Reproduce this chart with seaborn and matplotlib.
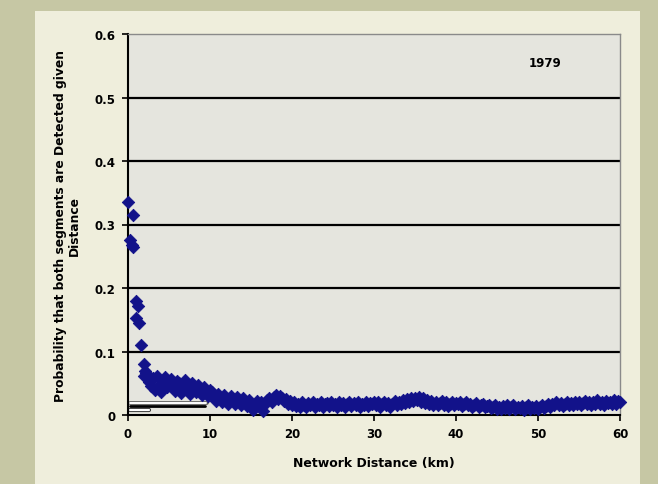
import numpy as np
import pandas as pd
import matplotlib
matplotlib.use("Agg")
import matplotlib.pyplot as plt
from matplotlib.patches import Rectangle
import seaborn as sns

# Short-distance pairs (km, probability)
near_km = [0.0, 0.6, 0.2, 0.5, 0.6, 1.0, 1.2, 1.0, 1.4, 1.6, 2.0, 2.1, 1.9, 2.2]
near_prob = [0.335, 0.315, 0.275, 0.268, 0.265, 0.180, 0.172, 0.152, 0.145,
             0.110, 0.080, 0.070, 0.062, 0.066]

# Remaining distances, sampled every 0.25 km from 2.25 to 60 km
band_start_km = 2.25
band_step_km = 0.25
band_prob = [
    # 2.25 - 5.0
    0.060, 0.052, 0.045, 0.058, 0.040, 0.062, 0.048, 0.037, 0.055, 0.060, 0.044, 0.052,
    # 5.25 - 10.0
    0.056, 0.045, 0.038, 0.054, 0.050, 0.035, 0.047, 0.055, 0.042, 0.033,
    0.050, 0.046, 0.036, 0.048, 0.040, 0.031, 0.044, 0.038, 0.030, 0.040,
    # 10.25 - 15.0
    0.036, 0.028, 0.022, 0.033, 0.026, 0.020, 0.031, 0.024, 0.018, 0.030,
    0.025, 0.017, 0.028, 0.022, 0.016, 0.026, 0.020, 0.014, 0.024, 0.012,
    # 15.25 - 20.0
    0.008, 0.018, 0.022, 0.016, 0.020, 0.006, 0.018, 0.024, 0.026, 0.020,
    0.028, 0.031, 0.025, 0.030, 0.027, 0.022, 0.025, 0.018, 0.022, 0.016,
    # 20.25 - 25.0
    0.020, 0.014, 0.018, 0.013, 0.021, 0.016, 0.012, 0.019, 0.015, 0.020,
    0.013, 0.018, 0.016, 0.021, 0.012, 0.017, 0.019, 0.014, 0.020, 0.015,
    # 25.25 - 30.0
    0.018, 0.013, 0.021, 0.016, 0.019, 0.012, 0.017, 0.020, 0.014, 0.019,
    0.016, 0.021, 0.013, 0.018, 0.015, 0.020, 0.014, 0.019, 0.017, 0.021,
    # 30.25 - 35.0
    0.016, 0.020, 0.013, 0.018, 0.021, 0.015, 0.019, 0.012, 0.018, 0.022,
    0.016, 0.020, 0.017, 0.023, 0.019, 0.025, 0.021, 0.027, 0.022, 0.026,
    # 35.25 - 40.0
    0.024, 0.028, 0.021, 0.026, 0.019, 0.024, 0.018, 0.022, 0.016, 0.021,
    0.015, 0.019, 0.022, 0.016, 0.020, 0.014, 0.018, 0.021, 0.015, 0.019,
    # 40.25 - 45.0
    0.017, 0.020, 0.014, 0.018, 0.021, 0.015, 0.017, 0.012, 0.016, 0.019,
    0.013, 0.015, 0.018, 0.012, 0.014, 0.016, 0.011, 0.013, 0.015, 0.010,
    # 45.25 - 50.0
    0.013, 0.009, 0.014, 0.011, 0.015, 0.010, 0.012, 0.016, 0.009, 0.013,
    0.011, 0.014, 0.008, 0.012, 0.015, 0.010, 0.013, 0.011, 0.014, 0.009,
    # 50.25 - 55.0
    0.012, 0.015, 0.011, 0.014, 0.017, 0.013, 0.018, 0.015, 0.020, 0.016,
    0.019, 0.014, 0.018, 0.021, 0.016, 0.019, 0.015, 0.020, 0.017, 0.021,
    # 55.25 - 60.0
    0.016, 0.019, 0.022, 0.017, 0.020, 0.015, 0.021, 0.018, 0.023, 0.017,
    0.020, 0.016, 0.022, 0.019, 0.021, 0.017, 0.023, 0.018, 0.022, 0.020,
]
band_km = [round(band_start_km + i * band_step_km, 2) for i in range(len(band_prob))]

x_ticks = [0, 10, 20, 30, 40, 50, 60]
y_ticks = [0, 0.1, 0.2, 0.3, 0.4, 0.5, 0.6]
y_tick_labels = ["0", "0.1", "0.2", "0.3", "0.4", "0.5", "0.6"]
year_label = "1979"

df = pd.DataFrame({
    "distance": near_km + band_km,
    "prob": near_prob + band_prob,
})

sns.set_theme(style="white")
plt.rcParams["font.family"] = ["DejaVu Sans"]

OUTER = "#c6c7a4"
PANEL = "#efeedc"
PLOT_BG = "#e5e5de"
NAVY = "#12128a"

fig = plt.figure(figsize=(6.58, 4.85), dpi=100, facecolor=OUTER)
# Light chart panel on the olive backdrop, kept behind the axes
panel = Rectangle((35 / 658, 0), 605 / 658, 1 - 12 / 485,
                  transform=fig.transFigure, facecolor=PANEL,
                  edgecolor="none", zorder=-5)
fig.add_artist(panel)

ax = fig.add_axes([128 / 658, 69 / 485, 492 / 658, 381 / 485])
ax.set_zorder(1)
ax.set_facecolor(PLOT_BG)

for yv in y_ticks[1:-1]:
    ax.axhline(yv, color="black", lw=1.6, zorder=1)

# Leftover legend strokes near the origin
ax.plot([0.2, 9.4], [0.014, 0.014], color="black", lw=2.0, zorder=2)
ax.plot([0.2, 9.6], [0.019, 0.019], color="#555555", lw=2.6, zorder=2)
ax.plot([0.3, 9.5], [0.019, 0.019], color="white", lw=1.4, zorder=2)
ax.plot([0.2, 2.6], [0.008, 0.008], color="#333333", lw=3.0, zorder=2)
ax.plot([0.3, 2.5], [0.008, 0.008], color="white", lw=1.6, zorder=2)

sns.scatterplot(data=df, x="distance", y="prob", ax=ax, marker="D", s=40,
                color=NAVY, edgecolor=NAVY, linewidth=0.6, zorder=3,
                legend=False, clip_on=False)

ax.set_xlim(0, 60)
ax.set_ylim(0, 0.6)
ax.set_xticks(x_ticks)
ax.set_xticklabels([str(t) for t in x_ticks])
ax.set_yticks(y_ticks)
ax.set_yticklabels(y_tick_labels)

ax.tick_params(axis="both", which="both", direction="out", length=4, width=1.2,
               color="black", labelsize=8.5, labelcolor="black",
               bottom=True, left=True)
ax.tick_params(axis="x", pad=5)
ax.tick_params(axis="y", pad=5)
for lab in ax.get_xticklabels() + ax.get_yticklabels():
    lab.set_fontweight("bold")

for side in ("left", "bottom"):
    ax.spines[side].set_color("black")
    ax.spines[side].set_linewidth(1.5)
for side in ("top", "right"):
    ax.spines[side].set_color("#8a8a8a")
    ax.spines[side].set_linewidth(1.0)
ax.grid(False)

ax.set_xlabel("Network Distance (km)", fontsize=9, fontweight="bold",
              color="black", labelpad=11)
ax.set_ylabel("Probability that both segments are Detected given\nDistance",
              fontsize=8.8, fontweight="bold", color="black", labelpad=10,
              linespacing=1.1)

ax.text(50.9, 0.555, year_label, fontsize=8.5, fontweight="bold",
        color="black", ha="center", va="center")

fig.savefig("out.png", dpi=100, facecolor=fig.get_facecolor())
